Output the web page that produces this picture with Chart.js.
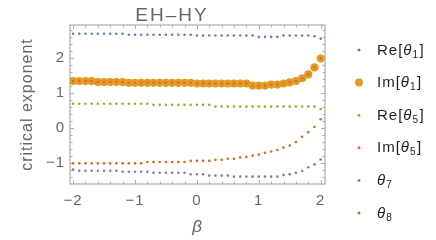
<!DOCTYPE html>
<html>
<head>
<meta charset="utf-8">
<script src="https://cdn.jsdelivr.net/npm/chart.js@4/dist/chart.umd.min.js"></script>
<style>
html,body{margin:0;padding:0;background:#fff;}
#wrap{width:436px;height:240px;}
</style>
</head>
<body>
<div id="wrap"><canvas id="c" width="436" height="240"></canvas></div>
<script>
// ---------- data ----------
const beta = [-2,-1.9,-1.8,-1.7,-1.6,-1.5,-1.4,-1.3,-1.2,-1.1,-1,-0.9,-0.8,-0.7,-0.6,-0.5,-0.4,-0.3,-0.2,-0.1,
  0,0.1,0.2,0.3,0.4,0.5,0.6,0.7,0.8,0.9,1,1.1,1.2,1.3,1.4,1.5,1.6,1.7,1.8,1.9,2];

const reTheta1 = [2.70,2.70,2.70,2.70,2.70,2.70,2.70,2.70,2.70,
  2.67,2.67,2.67,2.67,2.67,2.67,2.67,2.67,2.67,2.67,2.67,
  2.65,2.65,2.65,2.65,2.65,2.65,2.65,2.65,2.65,2.65,
  2.61,2.61,2.61,2.61,
  2.65,2.65,2.65,2.65,2.65,
  2.63,2.56];

const imTheta1 = [1.35,1.35,1.35,1.35,
  1.32,1.32,1.32,1.32,1.32,
  1.30,1.30,1.30,1.30,1.30,1.30,1.30,1.30,1.30,1.30,1.30,
  1.28,1.28,1.28,1.28,1.28,1.28,1.28,1.28,1.28,
  1.22,1.22,1.22,
  1.25,1.25,
  1.28,1.31,1.35,1.43,1.54,1.74,1.99];

const reTheta5 = [0.70,0.70,0.70,0.70,0.70,0.70,0.70,0.70,0.70,0.70,0.70,0.70,0.70,
  0.67,0.67,0.67,0.67,0.67,0.67,0.67,0.67,0.67,0.67,
  0.62,0.62,0.62,0.62,0.62,0.62,0.62,0.62,0.62,0.62,0.62,0.62,0.62,0.62,0.62,0.62,0.62,
  0.55];

const imTheta5 = [1.35,1.35,1.35,1.35,
  1.32,1.32,1.32,1.32,1.32,
  1.30,1.30,1.30,1.30,1.30,1.30,1.30,1.30,1.30,1.30,1.30,
  1.28,1.28,1.28,1.28,1.28,1.28,1.28,1.28,1.28,
  1.22,1.22,1.22,
  1.25,1.25,
  1.28,1.31,1.35,1.43,1.54,1.74,1.99];

const theta7 = [-1.18,
  -1.21,-1.21,-1.21,-1.21,-1.21,-1.21,-1.21,
  -1.24,-1.24,-1.24,-1.24,-1.24,
  -1.27,-1.27,-1.27,-1.27,-1.27,-1.27,
  -1.31,-1.31,-1.31,
  -1.35,-1.35,-1.35,-1.35,
  -1.38,-1.38,-1.38,-1.38,-1.38,-1.38,-1.38,-1.38,
  -1.33,-1.31,-1.27,-1.22,-1.11,-1.03,-0.89];

const theta8 = [-1.00,-1.00,-1.00,-1.00,-1.00,-1.00,-1.00,-1.00,-1.00,-1.00,-1.00,-1.00,
  -0.96,-0.96,-0.96,-0.96,-0.96,-0.96,-0.96,
  -0.93,-0.93,-0.93,-0.93,
  -0.90,-0.90,
  -0.87,-0.87,
  -0.83,-0.82,-0.78,-0.75,-0.70,-0.66,-0.62,-0.55,-0.49,-0.39,-0.24,-0.11,0.04,0.26];

const seriesNames = ['Re[θ1]','Im[θ1]','Re[θ5]','Im[θ5]','θ7','θ8'];
const xTickValues = [-2,-1,0,1,2];
const yTickValues = [-1,0,1,2];
const chartTitle = 'EH–HY';
const xAxisTitle = 'β';
const yAxisTitle = 'critical exponent';

// ---------- styles ----------
const seriesColors = ['#5E81B5','#E19C24','#8FB032','#EB6235','#8778B3','#C56E1A'];
const pointSizes = [1.3, 4.1, 1.3, 1.3, 1.3, 1.3];
const legendSizes = [1.5, 4.0, 1.5, 1.5, 1.5, 1.5];
const FONT = '"Liberation Sans", Arial, sans-serif';
const GRAY = '#666666';
const FRAME = '#ababab';

const seriesValues = [reTheta1, imTheta1, reTheta5, imTheta5, theta7, theta8];
const datasets = seriesValues.map((vals, i) => ({
  label: seriesNames[i],
  data: vals.map((v, j) => ({x: beta[j], y: v})),
  backgroundColor: seriesColors[i],
  borderColor: seriesColors[i],
  borderWidth: 0,
  pointRadius: pointSizes[i],
  pointHoverRadius: pointSizes[i],
  showLine: false,
  order: 6 - i
}));

const fmt = v => (v < 0 ? '\u2212' + Math.abs(v) : String(v));

function drawRich(ctx, label, x, y) {
  const parts = label.split(/(θ\d)/).filter(p => p.length);
  ctx.textAlign = 'left';
  ctx.textBaseline = 'alphabetic';
  ctx.fillStyle = '#1e1e1e';
  ctx.letterSpacing = '1px';
  for (const p of parts) {
    const m = p.match(/^θ(\d)$/);
    if (m) {
      ctx.font = 'italic 15px ' + FONT;
      ctx.fillText('θ', x, y);
      x += ctx.measureText('θ').width;
      ctx.font = '10px ' + FONT;
      ctx.fillText(m[1], x, y + 3);
      x += ctx.measureText(m[1]).width + 0.5;
    } else {
      ctx.font = '15px ' + FONT;
      ctx.fillText(p, x, y);
      x += ctx.measureText(p).width;
    }
  }
}

const decorPlugin = {
  id: 'decor',
  beforeDraw(chart) {
    chart.ctx.letterSpacing = '1px';
  },
  beforeDatasetsDraw(chart) {
    const {ctx, chartArea: a, scales: {x, y}} = chart;
    ctx.save();
    ctx.strokeStyle = FRAME;
    ctx.lineWidth = 1.2;
    ctx.strokeRect(a.left, a.top, a.right - a.left, a.bottom - a.top);
    ctx.lineWidth = 1;
    ctx.beginPath();
    for (let k = -20; k <= 20; k += 2) {
      const v = k / 10;
      if (v < x.min || v > x.max) continue;
      const len = (k % 10 === 0) ? 4 : 2.5;
      const px = Math.round(x.getPixelForValue(v)) + 0.5;
      ctx.moveTo(px, a.bottom); ctx.lineTo(px, a.bottom - len);
      ctx.moveTo(px, a.top); ctx.lineTo(px, a.top + len);
    }
    for (let k = -16; k <= 30; k += 2) {
      const v = k / 10;
      if (v < y.min || v > y.max) continue;
      const len = (k % 10 === 0) ? 4 : 2.5;
      const py = Math.round(y.getPixelForValue(v)) + 0.5;
      ctx.moveTo(a.left, py); ctx.lineTo(a.left + len, py);
      ctx.moveTo(a.right, py); ctx.lineTo(a.right - len, py);
    }
    ctx.stroke();
    ctx.restore();
  },
  afterDraw(chart) {
    const ctx = chart.ctx;
    ctx.save();
    // title
    ctx.font = '19px ' + FONT;
    ctx.letterSpacing = '2px';
    ctx.fillStyle = GRAY;
    ctx.textAlign = 'center';
    ctx.textBaseline = 'alphabetic';
    ctx.fillText(chartTitle, 172, 20.5);
    // legend
    chart.data.datasets.forEach((ds, i) => {
      const yy = 50 + i * 32.6;
      ctx.beginPath();
      ctx.arc(359, yy, legendSizes[i], 0, Math.PI * 2);
      ctx.fillStyle = ds.backgroundColor;
      ctx.fill();
      drawRich(ctx, ds.label, 377, yy + 4.5);
    });
    ctx.restore();
  }
};

new Chart(document.getElementById('c'), {
  type: 'scatter',
  data: {datasets},
  options: {
    responsive: false,
    animation: false,
    devicePixelRatio: 1,
    layout: {padding: {top: 25, right: 111, left: 0, bottom: 0}},
    plugins: {legend: {display: false}, title: {display: false}, tooltip: {enabled: false}},
    scales: {
      x: {
        type: 'linear', position: 'bottom', min: -2.05, max: 2.07,
        afterFit(s) { s.height = 56; },
        afterBuildTicks(s) { s.ticks = xTickValues.map(v => ({value: v})); },
        grid: {display: false, drawTicks: false},
        border: {display: false},
        ticks: {padding: 8, color: GRAY, font: {family: FONT, size: 15}, maxRotation: 0, autoSkip: false, callback: v => fmt(v)},
        title: {display: true, text: xAxisTitle, color: GRAY, font: {family: FONT, size: 17, style: 'italic'}, padding: {top: 0, bottom: 3}}
      },
      y: {
        type: 'linear', position: 'left', min: -1.59, max: 2.95,
        afterFit(s) { s.width = 70; },
        afterBuildTicks(s) { s.ticks = yTickValues.map(v => ({value: v})); },
        grid: {display: false, drawTicks: false},
        border: {display: false},
        ticks: {padding: 5, color: GRAY, font: {family: FONT, size: 15}, autoSkip: false, callback: v => fmt(v)},
        title: {display: true, text: yAxisTitle, color: GRAY, font: {family: FONT, size: 16}, padding: {top: 18, bottom: 0}}
      }
    }
  },
  plugins: [decorPlugin]
});
</script>
</body>
</html>
